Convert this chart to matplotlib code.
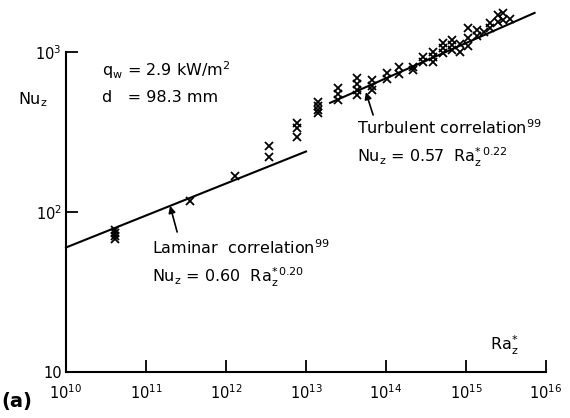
import numpy as np
import matplotlib
matplotlib.use('Agg')
import matplotlib.pyplot as plt

plt.rcParams['font.family'] = ['DejaVu Sans']
plt.rcParams['mathtext.fontset'] = 'dejavusans'

# ---- data ----
pts_ra = [4.1e10, 4.1e10, 4.1e10, 4.1e10,
          3.5e11, 1.3e12, 3.4e12, 3.4e12, 7.8e12, 7.8e12, 7.8e12,
          1.41e13, 1.41e13, 1.41e13, 1.41e13,
          2.5e13, 2.5e13, 2.5e13,
          4.4e13, 4.4e13, 4.4e13, 4.4e13,
          6.7e13, 6.7e13, 6.7e13,
          1.02e14, 1.02e14,
          1.45e14, 1.45e14,
          2.2e14, 2.2e14,
          2.9e14, 2.9e14,
          3.9e14, 3.9e14, 3.9e14,
          5.1e14, 5.1e14, 5.1e14,
          6.7e14, 6.7e14, 6.7e14,
          8.4e14, 8.4e14,
          1.06e15, 1.06e15, 1.06e15,
          1.38e15, 1.38e15,
          1.68e15,
          2.0e15, 2.0e15,
          2.5e15, 2.5e15,
          2.9e15, 2.9e15,
          3.5e15]
pts_nu = [68, 71, 74, 77,
          117, 168, 258, 221, 360, 335, 294,
          487, 460, 434, 416,
          596, 547, 501,
          688, 631, 579, 538,
          668, 613, 579,
          739, 678,
          806, 729,
          806, 772,
          931, 866,
          1000, 931, 866,
          1138, 1059, 986,
          1189, 1106, 1029,
          1122, 1000,
          1413, 1223, 1090,
          1372, 1259,
          1334,
          1518, 1413,
          1702, 1540,
          1754, 1585,
          1607]

lam_coef, lam_exp, lam_range = 0.60, 0.20, [1e10, 1e13]
tur_coef, tur_exp, tur_range = 0.57, 0.22, [2.0e13, 7.2e15]

x_ticks = [1e10, 1e11, 1e12, 1e13, 1e14, 1e15, 1e16]
x_labels = ['$10^{10}$', '$10^{11}$', '$10^{12}$', '$10^{13}$',
            '$10^{14}$', '$10^{15}$', '$10^{16}$']
y_ticks = [10, 100, 1000]
y_labels = ['10', '$10^{2}$', '$10^{3}$']

W, H = 570, 418
fig = plt.figure(figsize=(W / 100, H / 100), dpi=100)
L, R, T, B = 66, 546, 52, 372
ax = fig.add_axes([L / W, 1 - B / H, (R - L) / W, (B - T) / H])

def fxy(x, y):
    return x / W, 1 - y / H

ax.set_xscale('log')
ax.set_yscale('log')
ax.set_xlim(1e10, 1e16)
ax.set_ylim(10, 1000)

for s in ['top', 'right']:
    ax.spines[s].set_visible(False)
for s in ['left', 'bottom']:
    ax.spines[s].set_linewidth(1.5)

ax.set_xticks(x_ticks)
ax.set_xticklabels(x_labels)
ax.set_yticks(y_ticks)
ax.set_yticklabels(y_labels)
ax.minorticks_off()
ax.tick_params(axis='both', direction='in', length=8.5, width=1.3, labelsize=10.5, colors='k')
ax.tick_params(axis='x', pad=8)
ax.tick_params(axis='y', pad=3)

# correlation lines
lr = np.array(lam_range)
ax.plot(lr, lam_coef * lr ** lam_exp, color='k', lw=1.5, clip_on=False)
tr = np.array(tur_range)
ax.plot(tr, tur_coef * tr ** tur_exp, color='k', lw=1.5, clip_on=False)

# data points
ax.plot(pts_ra, pts_nu, linestyle='none', marker='x', color='k', ms=5.5, mew=1.3, clip_on=False)

# arrows
ra_l = 2.0e11
ax.annotate('', xy=(ra_l, lam_coef * ra_l ** lam_exp), xytext=(2.45e11, 75),
            arrowprops=dict(arrowstyle='-|>', color='k', lw=1.2, mutation_scale=10,
                            shrinkA=0, shrinkB=0))
ra_t = 5.6e13
ax.annotate('', xy=(ra_t, 0.93 * tur_coef * ra_t ** tur_exp), xytext=(6.9e13, 404),
            arrowprops=dict(arrowstyle='-|>', color='k', lw=1.2, mutation_scale=10,
                            shrinkA=0, shrinkB=0))

fs = 11.5
fig.text(*fxy(102, 70), r'$\mathregular{q_w}$ = 2.9 kW/m$^2$', fontsize=fs, va='center', ha='left')
fig.text(*fxy(102, 97), 'd   = 98.3 mm', fontsize=fs, va='center', ha='left')
fig.text(*fxy(18, 100), r'$\mathregular{Nu_z}$', fontsize=fs, va='center', ha='left')
fig.text(*fxy(357, 128), r'Turbulent correlation$^{\mathregular{99}}$', fontsize=fs, va='center', ha='left')
fig.text(*fxy(357, 157), r'$\mathregular{Nu_z}$ = 0.57  $\mathregular{Ra_z^{*\,0.22}}$', fontsize=fs, va='center', ha='left')
fig.text(*fxy(152, 248), r'Laminar  correlation$^{\mathregular{99}}$', fontsize=fs, va='center', ha='left')
fig.text(*fxy(152, 277), r'$\mathregular{Nu_z}$ = 0.60  $\mathregular{Ra_z^{*\,0.20}}$', fontsize=fs, va='center', ha='left')
fig.text(*fxy(490, 345), r'$\mathregular{Ra_z^{*}}$', fontsize=fs, va='center', ha='left')
fig.text(*fxy(1, 402), '(a)', fontsize=14, fontweight='bold', va='center', ha='left')

fig.savefig('out.png', dpi=100)
